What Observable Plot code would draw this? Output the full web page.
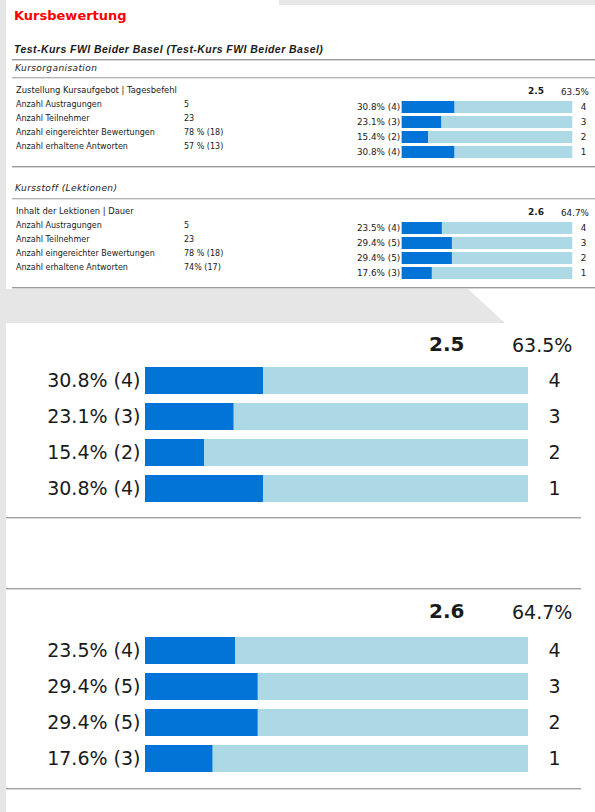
<!DOCTYPE html>
<html><head><meta charset="utf-8">
<script src="https://cdn.jsdelivr.net/npm/d3@7"></script>
<script src="https://cdn.jsdelivr.net/npm/@observablehq/plot@0.6"></script>
<style>
html,body{margin:0;padding:0;background:#fff;}
#page{position:relative;width:595px;height:812px;overflow:hidden;background:#fff;font-family:"DejaVu Sans",sans-serif;color:#1a1a1a;}
.t{position:absolute;white-space:nowrap;}
.box{position:absolute;}
.plot{position:absolute;}
.plot svg{overflow:visible;}
</style></head><body><div id="page"></div>
<script>
// ---------- data ----------
const reportTitle = "Kursbewertung";
const courseTitle = "Test-Kurs FWI Beider Basel (Test-Kurs FWI Beider Basel)";
const sections = ["Kursorganisation", "Kursstoff (Lektionen)"];
const questions = ["Zustellung Kursaufgebot | Tagesbefehl", "Inhalt der Lektionen | Dauer"];
const statLabels = ["Anzahl Austragungen", "Anzahl Teilnehmer", "Anzahl eingereichter Bewertungen", "Anzahl erhaltene Antworten"];
const statValues1 = ["5", "23", "78 % (18)", "57 % (13)"];
const statValues2 = ["5", "23", "78 % (18)", "74% (17)"];
const ratings = [4, 3, 2, 1];
const percents1 = [30.8, 23.1, 15.4, 30.8];
const counts1 = [4, 3, 2, 4];
const percents2 = [23.5, 29.4, 29.4, 17.6];
const counts2 = [4, 5, 5, 3];
const averages = ["2.5", "2.6"];
const scores = ["63.5%", "64.7%"];
const scaleMax = 100;

const statValues = [statValues1, statValues2];
const percents = [percents1, percents2];
const counts = [counts1, counts2];

// ---------- helpers ----------
const page = document.getElementById("page");
const GRAY = "#e6e6e6";
function box(x, y, w, h, css) {
  const d = document.createElement("div");
  d.className = "box";
  Object.assign(d.style, {left: x + "px", top: y + "px", width: w + "px", height: h + "px"}, css || {});
  page.appendChild(d);
  return d;
}
function text(str, x, y, o = {}) {
  const d = document.createElement("div");
  d.className = "t";
  d.textContent = str;
  const size = o.size || 8;
  const lh = Math.round(size * 1.3);
  Object.assign(d.style, {
    top: (y - lh / 2) + "px",
    lineHeight: lh + "px",
    fontSize: size + "px",
    fontFamily: o.family || '"DejaVu Sans", sans-serif',
    fontWeight: o.weight || "normal",
    fontStyle: o.style || "normal",
    color: o.color || "#1a1a1a",
    letterSpacing: (o.ls || 0) + "px"
  });
  if (o.anchor === "end") d.style.right = (595 - x) + "px"; else d.style.left = x + "px";
  page.appendChild(d);
  return d;
}
function rule(x, y, w, dark, light) {
  box(x, y, w, 1, {background: dark || "#9c9c9c"});
  box(x, y + 1, w, 1, {background: light || "#d6d6d6"});
}
function bars(i, o) {
  const data = ratings.map((r, j) => ({rating: r, pct: percents[i][j], count: counts[i][j]}));
  const lab = new Map(data.map(d => [d.rating, `${d.pct.toFixed(1)}% (${d.count})`]));
  const svg = Plot.plot({
    width: o.width, height: o.height,
    marginLeft: o.ml, marginRight: o.mr, marginTop: 0, marginBottom: 0,
    style: {fontFamily: '"DejaVu Sans", sans-serif', fontSize: o.fs + "px", background: "transparent", overflow: "visible", color: "#1a1a1a"},
    x: {domain: [0, scaleMax], axis: null},
    y: {domain: ratings, paddingInner: o.pad, paddingOuter: 0, axis: null},
    marks: [
      Plot.barX(data, {x: () => scaleMax, y: "rating", fill: "#add8e6"}),
      Plot.barX(data, {x: "pct", y: "rating", fill: "#0274d8"}),
      Plot.axisY({anchor: "left", label: null, tickSize: 0, tickPadding: o.tpL, tickFormat: d => lab.get(d)}),
      Plot.axisY({anchor: "right", label: null, tickSize: 0, tickPadding: o.tpR, tickFormat: d => String(d)})
    ]
  });
  const wrap = document.createElement("div");
  wrap.className = "plot";
  wrap.style.left = o.left + "px";
  wrap.style.top = o.top + "px";
  wrap.appendChild(svg);
  page.appendChild(wrap);
}

// ---------- background pieces ----------
box(0, 0, 6, 812, {background: GRAY});
box(279, 0, 316, 5, {background: GRAY});
box(0, 289, 510, 34, {background: GRAY, clipPath: "polygon(0 0, 468px 0, 505px 100%, 0 100%)"});

// ---------- report header ----------
text(reportTitle, 14, 15, {size: 13, weight: "bold", color: "#ff0000"});
text(courseTitle, 14, 49, {size: 10.5, weight: "bold", style: "italic", ls: 0.45, family: '"Liberation Sans", Arial, sans-serif'});
rule(12, 59, 583);

// ---------- small table sections ----------
const sec = [
  {head: 68, headLine: 77, q: 90, rows: [105, 119, 133, 147], bottom: 166, barTop: 100, barH: 58},
  {head: 188, headLine: 198, q: 211, rows: [226, 240, 254, 268], bottom: 287, barTop: 220, barH: 60}
];
sec.forEach((s, i) => {
  text(sections[i], 15, s.head, {size: 9, style: "italic", ls: 0.4});
  rule(12, s.headLine, 583, "#b4b4b4", "#e2e2e2");
  text(questions[i], 16, s.q, {size: 8.4});
  statLabels.forEach((l, j) => {
    text(l, 16, s.rows[j], {size: 8});
    text(statValues[i][j], 184, s.rows[j], {size: 8});
  });
  text(averages[i], 528, s.q + 1, {size: 9, weight: "bold"});
  text(scores[i], 561, s.q + 2, {size: 8.8});
  bars(i, {left: 330, top: s.barTop, width: 265, height: s.barH, ml: 71.7, mr: 22.7, pad: 0.2, fs: 8.8, tpL: 2, tpR: 8});
  rule(12, s.bottom, 583);
});

// ---------- enlarged panels ----------
const big = [
  {head: 344, top: 366, h: 136},
  {head: 611, top: 636, h: 137}
];
rule(6, 517, 575, "#a4a4a4", "#d8d8d8");
rule(6, 588, 575, "#a4a4a4", "#d8d8d8");
rule(6, 788, 575, "#a4a4a4", "#d8d8d8");
big.forEach((b, i) => {
  text(averages[i], 429, b.head, {size: 20, weight: "bold"});
  text(scores[i], 512, b.head + 1, {size: 19});
  bars(i, {left: 0, top: b.top, width: 595, height: b.h, ml: 145, mr: 67, pad: 0.25, fs: 19, tpL: 5, tpR: 20});
});
</script>
</body></html>
